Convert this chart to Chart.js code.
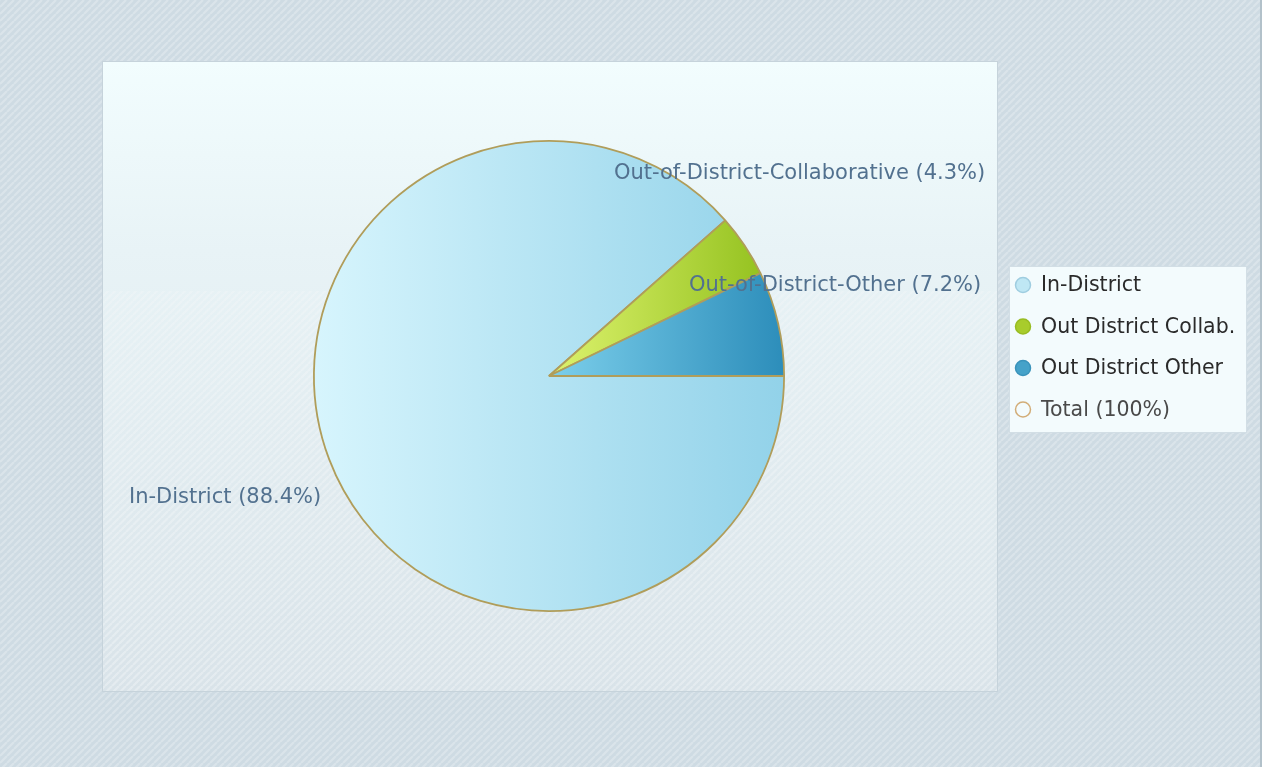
<!DOCTYPE html>
<html>
<head>
    <title>placement-chart</title>
    <meta charset="utf-8">
    <script src="https://cdn.jsdelivr.net/npm/chart.js"></script>
    <style>
        body { margin: 0; background: #d3dee6; }
        canvas { display: block; }
    </style>
</head>
<body>
    <canvas id="piechart" width="1262" height="767"></canvas>

    <script>
        const categories = ['In-District', 'Out-of-District-Collaborative', 'Out-of-District-Other'];
        const legendNames = ['In-District', 'Out District Collab.', 'Out District Other'];
        const shares = [88.4, 4.3, 7.2];
        const totalLabel = 'Total (100%)';

        // left/right colours of each slice's horizontal gradient
        const sliceShades = [['#d7f5fd', '#92d2e9'], ['#def36e', '#8dbd18'], ['#7ccfeb', '#2c8dba']];
        const legendFill = ['#bfe7f4', '#a8cc2c', '#45a2c9'];
        const legendStroke = ['#9fcde0', '#98bc22', '#3a93bb'];

        // label offsets from the arc edge at each slice's middle angle
        const labelShift = [[-104, 38], [55, -72], [57, -38]];

        const plotBox = { left: 102, top: 61, right: 997, bottom: 691 };
        const legendBox = { left: 1009, top: 266, right: 1246, bottom: 432 };

        function stripePattern(ctx, base, line) {
            const c = document.createElement('canvas');
            c.width = 7; c.height = 7;
            const p = c.getContext('2d');
            p.fillStyle = base;
            p.fillRect(0, 0, 7, 7);
            p.strokeStyle = line;
            p.lineWidth = 2.2;
            p.beginPath();
            for (let k = -7; k <= 14; k += 7) {
                p.moveTo(k, 7);
                p.lineTo(k + 7, 0);
            }
            p.stroke();
            return ctx.createPattern(c, 'repeat');
        }

        const backdrop = {
            id: 'backdrop',
            beforeDraw(chart) {
                const ctx = chart.ctx;
                const w = chart.width, h = chart.height;
                ctx.save();
                ctx.fillStyle = stripePattern(ctx, '#cedbe3', '#dae4ea');
                ctx.fillRect(0, 0, w, h);
                ctx.fillStyle = '#b2c1ca';
                ctx.fillRect(w - 2, 0, 2, h);

                const b = plotBox;
                const g = ctx.createLinearGradient(0, b.top, 0, b.bottom);
                g.addColorStop(0, '#f2fdfe');
                g.addColorStop(0.3, '#e8f3f6');
                g.addColorStop(1, '#d9e3e9');
                ctx.fillStyle = g;
                ctx.fillRect(b.left, b.top, b.right - b.left, b.bottom - b.top);
                ctx.globalAlpha = 0.45;
                ctx.fillStyle = stripePattern(ctx, 'rgba(0,0,0,0)', '#f2f6f8');
                ctx.fillRect(b.left, b.top + 230, b.right - b.left, b.bottom - b.top - 230);
                ctx.globalAlpha = 1;
                ctx.strokeStyle = '#c6d3db';
                ctx.lineWidth = 1;
                ctx.strokeRect(b.left + 0.5, b.top + 0.5, b.right - b.left, b.bottom - b.top);
                ctx.restore();
            }
        };

        const sliceLabels = {
            id: 'sliceLabels',
            afterDatasetsDraw(chart) {
                const ctx = chart.ctx;
                const arcs = chart.getDatasetMeta(0).data;
                ctx.save();
                ctx.font = '21px "DejaVu Sans"';
                ctx.fillStyle = '#52718f';
                ctx.textAlign = 'center';
                ctx.textBaseline = 'middle';
                arcs.forEach((arc, i) => {
                    const mid = (arc.startAngle + arc.endAngle) / 2;
                    const x = arc.x + Math.cos(mid) * arc.outerRadius + labelShift[i][0];
                    const y = arc.y + Math.sin(mid) * arc.outerRadius + labelShift[i][1];
                    ctx.fillText(`${categories[i]} (${shares[i]}%)`, x, y);
                });
                ctx.restore();
            }
        };

        const sideLegend = {
            id: 'sideLegend',
            afterDraw(chart) {
                const ctx = chart.ctx;
                const b = legendBox;
                ctx.save();
                ctx.fillStyle = '#f3fbfd';
                ctx.fillRect(b.left, b.top, b.right - b.left, b.bottom - b.top);
                ctx.strokeStyle = '#d2dee5';
                ctx.strokeRect(b.left + 0.5, b.top + 0.5, b.right - b.left, b.bottom - b.top);

                const rows = legendNames.concat([totalLabel]);
                ctx.font = '20.5px "DejaVu Sans"';
                ctx.textBaseline = 'middle';
                rows.forEach((name, i) => {
                    const y = b.top + 19 + i * 41.5;
                    ctx.beginPath();
                    ctx.arc(b.left + 14, y, 7.5, 0, Math.PI * 2);
                    if (i < legendFill.length) {
                        ctx.fillStyle = legendFill[i];
                        ctx.fill();
                        ctx.strokeStyle = legendStroke[i];
                    } else {
                        ctx.strokeStyle = '#d2ad78';
                    }
                    ctx.lineWidth = 1.5;
                    ctx.stroke();
                    ctx.fillStyle = i < legendFill.length ? '#2a2a2a' : '#4a4a4a';
                    ctx.fillText(name, b.left + 32, y + 1);
                });
                ctx.restore();
            }
        };

        function sliceGradient(context) {
            const i = context.dataIndex;
            const area = context.chart.chartArea;
            if (!area) return sliceShades[i][1];
            const cx = (area.left + area.right) / 2;
            const r = Math.min(area.right - area.left, area.bottom - area.top) / 2;
            const x0 = i === 0 ? cx - r : cx;
            const g = context.chart.ctx.createLinearGradient(x0, 0, cx + r, 0);
            g.addColorStop(0, sliceShades[i][0]);
            g.addColorStop(1, sliceShades[i][1]);
            return g;
        }

        new Chart(document.getElementById('piechart'), {
            type: 'pie',
            data: {
                labels: categories,
                datasets: [{
                    data: shares,
                    backgroundColor: sliceGradient,
                    borderColor: '#b09d5a',
                    borderWidth: 1.8
                }]
            },
            options: {
                responsive: false,
                animation: false,
                rotation: 90,
                layout: { padding: { left: 313, top: 140, right: 477, bottom: 155 } },
                plugins: {
                    legend: { display: false },
                    tooltip: { enabled: false }
                }
            },
            plugins: [backdrop, sliceLabels, sideLegend]
        });
    </script>
</body>
</html>
